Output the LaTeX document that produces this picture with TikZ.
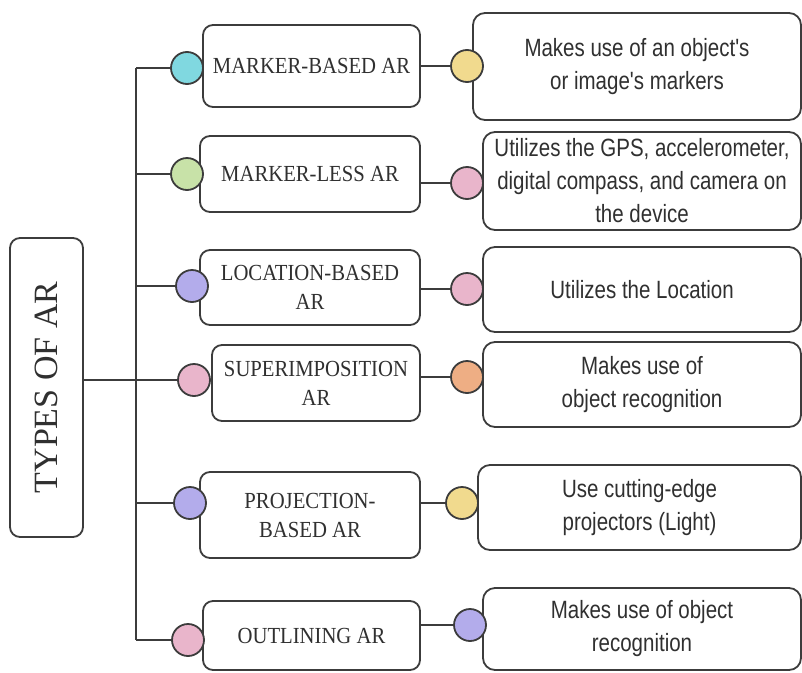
\documentclass[tikz,border=0pt]{standalone}
\usepackage{fontspec}
\setmainfont{Liberation Serif}
\newfontfamily\midfont[FakeStretch=0.9]{Liberation Serif}
\newfontfamily\rfont[FakeStretch=0.82]{Liberation Sans}
\definecolor{strokeC}{HTML}{3C3C3C}
\definecolor{textC}{HTML}{303030}
\definecolor{cyanC}{HTML}{80D8E0}
\definecolor{greenC}{HTML}{C8E2A8}
\definecolor{purpleC}{HTML}{B3ACEB}
\definecolor{pinkC}{HTML}{E9B5CB}
\definecolor{yellowC}{HTML}{F1DA8E}
\definecolor{orangeC}{HTML}{EEAE84}
\tikzset{
  conn/.style={draw=strokeC, line width=1.8pt},
  rootbox/.style={draw=strokeC, line width=1.8pt, rounded corners=10pt, fill=white,
    text=textC, inner sep=0pt},
  midbox/.style={draw=strokeC, line width=1.8pt, rounded corners=10pt, fill=white,
    text=textC, align=center, inner sep=0pt, font=\midfont\fontsize{23}{29}\selectfont},
  rbox/.style={draw=strokeC, line width=1.8pt, rounded corners=12pt, fill=white,
    text=textC, align=center, inner sep=0pt, font=\rfont\fontsize{25}{33}\selectfont},
  dot/.style={circle, draw=strokeC, line width=1.8pt, minimum size=32pt, inner sep=0pt},
}
\begin{document}
\begin{tikzpicture}[x=1pt,y=-1pt]
\useasboundingbox (0,0) rectangle (802,672);

% root
\node[rootbox, minimum width=73pt, minimum height=299pt] (T) at (46.5,387.5) {};
\node[text=textC, rotate=90, font=\fontsize{34}{40}\selectfont, inner sep=0pt] (Tt) at (T.center) {TYPES OF AR};

% middle boxes
\node[midbox, minimum width=217pt, minimum height=82pt] (m1) at (311.5,66) {MARKER-BASED AR};
\node[midbox, minimum width=220pt, minimum height=76pt] (m2) at (310,174) {MARKER-LESS AR};
\node[midbox, minimum width=220pt, minimum height=75pt] (m3) at (310,287.5) {LOCATION-BASED\\AR};
\node[midbox, minimum width=208pt, minimum height=76pt] (m4) at (316,383) {SUPERIMPOSITION\\AR};
\node[midbox, minimum width=220pt, minimum height=86pt] (m5) at (310,515) {PROJECTION-\\BASED AR};
\node[midbox, minimum width=217pt, minimum height=69pt] (m6) at (311.5,635.5) {OUTLINING AR};

% right boxes
\node[rbox, minimum width=328pt, minimum height=107pt] (r1) at (637,66.5) {Makes use of an object's\\or image's markers};
\node[rbox, minimum width=318pt, minimum height=98pt] (r2) at (642,181) {Utilizes the GPS, accelerometer,\\digital compass, and camera on\\the device};
\node[rbox, minimum width=318pt, minimum height=85pt] (r3) at (642,289.5) {Utilizes the Location};
\node[rbox, minimum width=318pt, minimum height=85pt] (r4) at (642,384.5) {Makes use of\\object recognition};
\node[rbox, minimum width=323pt, minimum height=85pt] (r5) at (639.5,507.5) {Use cutting-edge\\projectors (Light)};
\node[rbox, minimum width=318pt, minimum height=82pt] (r6) at (642,629) {Makes use of object\\recognition};

% left circles
\node[dot, fill=cyanC] (c1) at (187,68) {};
\node[dot, fill=greenC] (c2) at (187,174) {};
\node[dot, fill=purpleC] (c3) at (192,286) {};
\node[dot, fill=pinkC] (c4) at (194,380) {};
\node[dot, fill=purpleC] (c5) at (190,503) {};
\node[dot, fill=pinkC] (c6) at (188,640) {};

% right circles
\node[dot, fill=yellowC] (d1) at (467,66) {};
\node[dot, fill=pinkC] (d2) at (467,183) {};
\node[dot, fill=pinkC] (d3) at (467,289) {};
\node[dot, fill=orangeC] (d4) at (467,377) {};
\node[dot, fill=yellowC] (d5) at (462,503) {};
\node[dot, fill=purpleC] (d6) at (470,625) {};

% trunk
\coordinate (tTop) at (136,68);
\coordinate (tBot) at (136,640);
\draw[conn] (tTop) -- (tBot);
\draw[conn] (T.east |- c4) -- (c4.west);
\draw[conn] (tTop) -- (c1.west);
\draw[conn] (tTop |- c2) -- (c2.west);
\draw[conn] (tTop |- c3) -- (c3.west);
\draw[conn] (tTop |- c5) -- (c5.west);
\draw[conn] (tTop |- c6) -- (c6.west);

% middle to right
\draw[conn] (m1.east |- d1) -- (d1.west);
\draw[conn] (m2.east |- d2) -- (d2.west);
\draw[conn] (m3.east |- d3) -- (d3.west);
\draw[conn] (m4.east |- d4) -- (d4.west);
\draw[conn] (m5.east |- d5) -- (d5.west);
\draw[conn] (m6.east |- d6) -- (d6.west);
\end{tikzpicture}
\end{document}
